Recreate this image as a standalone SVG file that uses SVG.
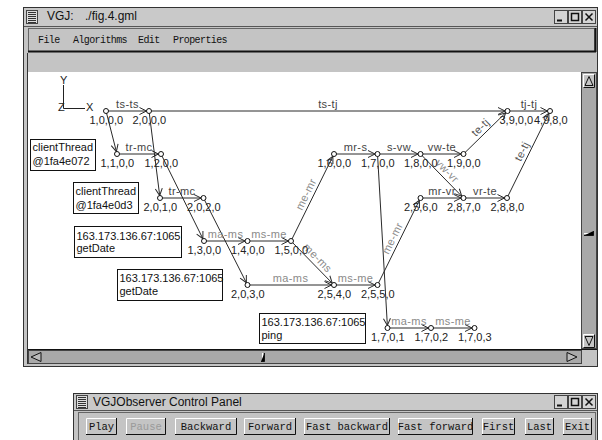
<svg xmlns="http://www.w3.org/2000/svg" width="602" height="440" viewBox="0 0 602 440">
<style>
.frame{fill:#c4c4c4;stroke:#333;stroke-width:1}
.tbar{fill:#c9c9c9}
.wt{font-family:"Liberation Sans",Arial,sans-serif;font-size:12px;fill:#111;white-space:pre}
.menu{font-family:"Liberation Mono","DejaVu Sans Mono",monospace;font-size:10px;letter-spacing:-0.6px;fill:#111}
.btn{font-family:"Liberation Mono","DejaVu Sans Mono",monospace;font-size:10.5px;fill:#111;text-anchor:middle}
.btn.dis{fill:#9a9a9a}
.nl{font-family:"Liberation Sans",Arial,sans-serif;font-size:11px;fill:#222}
.el{font-family:"Liberation Sans",Arial,sans-serif;font-size:11px;letter-spacing:0.4px;text-anchor:middle}
.dk{fill:#444}
.md{fill:#555}
.lt{fill:#8a8a8a}
.bx{fill:#fff;stroke:#111;stroke-width:1}
.bt{font-family:"Liberation Sans",Arial,sans-serif;font-size:11px;fill:#111}
.ax{font-family:"Liberation Sans",Arial,sans-serif;font-size:11px;fill:#222}
.arr{stroke:#2a2a2a;stroke-width:1;marker-end:url(#ah)}
.node{fill:#fff;stroke:#111;stroke-width:1}
.hl{stroke:#fff;stroke-width:1;fill:none}
.sh{stroke:#111;stroke-width:1;fill:none}
.trough{fill:#a9a9a9}
</style>
<defs>
<marker id="ah" markerUnits="userSpaceOnUse" markerWidth="14" markerHeight="10" viewBox="-10 -5 14 10" refX="2.5" refY="0" orient="auto">
<path d="M-7,-3.5 L0,0 L-7,3.5" fill="none" stroke="#2a2a2a" stroke-width="1"/>
</marker>
</defs>
<rect x="0" y="0" width="602" height="440" fill="#fff"/>

<!-- main window -->
<g id="main-window">
<rect class="frame" x="23.5" y="7.5" width="574" height="359"/>
<rect class="tbar" x="24" y="8" width="573" height="18"/>
<line x1="24" y1="26.5" x2="597" y2="26.5" stroke="#555"/>
<g id="main-menuicon">
<rect x="26.5" y="10.5" width="11" height="13" fill="#ddd" stroke="#444"/>
<path d="M28,12.5H36M28,14.5H36M28,16.5H36M28,18.5H36M28,20.5H36M28,22.5H36" stroke="#333"/>
</g>
<text class="wt" x="47" y="20">VGJ:  <tspan x="85">./fig.4.gml</tspan></text>
<g id="main-winbtns">
<rect x="554.5" y="10.5" width="13" height="13" fill="#d4d4d4" stroke="#444"/>
<rect x="568.5" y="10.5" width="13" height="13" fill="#d4d4d4" stroke="#444"/>
<rect x="582.5" y="10.5" width="13" height="13" fill="#d4d4d4" stroke="#444"/>
<path d="M557,20.5H562" stroke="#111" stroke-width="2"/>
<rect x="571.5" y="13.5" width="7" height="7" fill="none" stroke="#111" stroke-width="1.5"/>
<path d="M585.5,13.5L592.5,20.5M592.5,13.5L585.5,20.5" stroke="#111" stroke-width="1.5"/>
</g>
<!-- menu bar -->
<rect x="28.5" y="28.5" width="566" height="23" fill="#c4c4c4" stroke="#666"/>
<path d="M28,51.5H596M595.5,28V52" stroke="#111" stroke-width="2"/>
<text class="menu" x="38" y="43">File</text>
<text class="menu" x="73" y="43">Algorithms</text>
<text class="menu" x="138" y="43">Edit</text>
<text class="menu" x="173" y="43">Properties</text>
<!-- canvas -->
<line x1="27.5" y1="53" x2="27.5" y2="364" stroke="#333"/>
<rect x="28" y="72" width="553" height="277" fill="#fff"/>
<line x1="28" y1="349.5" x2="597" y2="349.5" stroke="#111"/>
<!-- vertical scrollbar -->
<rect class="trough" x="581.5" y="72.5" width="15" height="276" stroke="#444"/>
<rect x="583" y="74" width="12" height="14" fill="#c4c4c4"/>
<path class="hl" d="M583.5,87.5V74.5H594.5"/>
<path class="sh" d="M594.5,74.5V87.5H583.5"/>
<path d="M589,76.5L593,85.5H585Z" fill="none" stroke="#111"/>
<rect x="583" y="334" width="12" height="14" fill="#c4c4c4"/>
<path class="hl" d="M583.5,347.5V334.5H594.5"/>
<path class="sh" d="M594.5,334.5V347.5H583.5"/>
<path d="M585,336.5H593L589,345.5Z" fill="none" stroke="#111"/>
<path d="M584,233.5H592" stroke="#fff"/>
<path d="M584,235.5H593.5V231" stroke="#111"/>
<!-- horizontal scrollbar -->
<rect class="trough" x="28.5" y="350.5" width="553" height="13" stroke="#444"/>
<path d="M41,352.5L31,357L41,361.5Z" fill="#bbb" stroke="#111"/>
<path d="M567,352.5L577,357L567,361.5Z" fill="#bbb" stroke="#111"/>
<path d="M262.5,353V361" stroke="#fff"/>
<path d="M261,361.5H264.5V353" stroke="#111"/>
<rect x="582" y="350" width="15" height="14" fill="#c4c4c4"/>
</g>

<!-- axes -->
<g id="axes">
<path d="M63.5,85V108.5H85" fill="none" stroke="#222"/>
<text class="ax" x="60" y="84">Y</text>
<text class="ax" x="86" y="111">X</text>
<text class="ax" x="58" y="111">Z</text>
</g>

<!-- annotation boxes -->
<g id="box-client1">
<rect class="bx" x="30.5" y="139.5" width="65" height="31"/>
<text class="bt" x="32.5" y="151">clientThread</text>
<text class="bt" x="32.5" y="165">@1fa4e072</text>
</g>
<g id="box-client2">
<rect class="bx" x="73.5" y="182.5" width="65" height="31"/>
<text class="bt" x="75.5" y="195">clientThread</text>
<text class="bt" x="75.5" y="208.5">@1fa4e0d3</text>
</g>
<g id="box-getdate1">
<rect class="bx" x="74.5" y="226.5" width="107" height="31"/>
<text class="bt" x="76.5" y="240">163.173.136.67:1065</text>
<text class="bt" x="76.5" y="252">getDate</text>
</g>
<g id="box-getdate2">
<rect class="bx" x="117.5" y="269.5" width="105" height="31"/>
<text class="bt" x="119.5" y="282">163.173.136.67:1065</text>
<text class="bt" x="119.5" y="294.5">getDate</text>
</g>
<g id="box-ping">
<rect class="bx" x="259.5" y="313.5" width="106" height="30"/>
<text class="bt" x="261.5" y="326">163.173.136.67:1065</text>
<text class="bt" x="261.5" y="338.5">ping</text>
</g>

<!-- connectors -->
<g id="connectors">
<line class="arr" x1="106" y1="111" x2="149" y2="111"/>
<line class="arr" x1="149" y1="111" x2="507.5" y2="111"/>
<line class="arr" x1="507.5" y1="111" x2="550" y2="111"/>
<line class="arr" x1="106" y1="111" x2="117" y2="154"/>
<line class="arr" x1="117" y1="154" x2="161" y2="154"/>
<line class="arr" x1="149" y1="111" x2="160" y2="198"/>
<line class="arr" x1="160" y1="198" x2="203.5" y2="198"/>
<line class="arr" x1="161" y1="154" x2="204" y2="241"/>
<line class="arr" x1="203.5" y1="198" x2="247.5" y2="285"/>
<line class="arr" x1="204" y1="241" x2="247.5" y2="241"/>
<line class="arr" x1="247.5" y1="241" x2="291" y2="241"/>
<line class="arr" x1="291" y1="241" x2="334" y2="154"/>
<line class="arr" x1="291" y1="241" x2="334" y2="285"/>
<line class="arr" x1="247.5" y1="285" x2="334" y2="285"/>
<line class="arr" x1="334" y1="285" x2="377.5" y2="285"/>
<line class="arr" x1="377.5" y1="285" x2="420.5" y2="198"/>
<line class="arr" x1="334" y1="154" x2="377.5" y2="154"/>
<line class="arr" x1="377.5" y1="154" x2="420.5" y2="154"/>
<line class="arr" x1="420.5" y1="154" x2="463.5" y2="154"/>
<line class="arr" x1="420.5" y1="154" x2="463.5" y2="198"/>
<line class="arr" x1="420.5" y1="198" x2="463.5" y2="198"/>
<line class="arr" x1="463.5" y1="198" x2="507" y2="198"/>
<line class="arr" x1="463.5" y1="154" x2="507.5" y2="111"/>
<line class="arr" x1="507" y1="198" x2="550" y2="111"/>
<line class="arr" x1="377.5" y1="154" x2="387.5" y2="328"/>
<line class="arr" x1="387.5" y1="328" x2="431" y2="328"/>
<line class="arr" x1="431" y1="328" x2="474.5" y2="328"/>
<!-- edge labels -->
<text class="el dk" x="127.5" y="107.5">ts-ts</text>
<text class="el dk" x="328" y="107.5">ts-tj</text>
<text class="el dk" x="529" y="107.5">tj-tj</text>
<text class="el dk" x="139" y="150.5">tr-mc</text>
<text class="el dk" x="182" y="194.5">tr-mc</text>
<text class="el lt" x="225.5" y="237.5">ma-ms</text>
<text class="el lt" x="269" y="237.5">ms-me</text>
<text class="el lt" x="290.5" y="281.5">ma-ms</text>
<text class="el lt" x="355.5" y="281.5">ms-me</text>
<text class="el dk" x="355.5" y="150.5">mr-s</text>
<text class="el dk" x="399" y="150.5">s-vw</text>
<text class="el dk" x="442" y="150.5">vw-te</text>
<text class="el dk" x="442" y="194.5">mr-vr</text>
<text class="el dk" x="485" y="194.5">vr-te</text>
<text class="el lt" x="409" y="324.5">ma-ms</text>
<text class="el lt" x="453" y="324.5">ms-me</text>
<text class="el lt" transform="translate(312.5,197.5) rotate(-63.7)" x="0" y="-3.5">me-mr</text>
<text class="el lt" transform="translate(312.5,263) rotate(45.7)" x="0" y="-3.5">me-ms</text>
<text class="el lt" transform="translate(399,241.5) rotate(-63.7)" x="0" y="-3.5">me-mr</text>
<text class="el lt" transform="translate(442,176) rotate(45.7)" x="0" y="-3.5">vw-vr</text>
<text class="el md" transform="translate(485.5,132.5) rotate(-44.3)" x="0" y="-3.5">te-tj</text>
<text class="el md" transform="translate(528.5,154.5) rotate(-63.7)" x="0" y="-3.5">te-tj</text>
</g>

<!-- nodes -->
<g id="n1000"><circle class="node" cx="106" cy="111" r="2.5"/><text class="nl" x="89.5" y="124">1,0,0,0</text></g>
<g id="n2000"><circle class="node" cx="149" cy="111" r="2.5"/><text class="nl" x="132.5" y="124">2,0,0,0</text></g>
<g id="n3900"><circle class="node" cx="507.5" cy="111" r="2.5"/><text class="nl" x="499.5" y="124">3,9,0,0</text></g>
<g id="n4980"><circle class="node" cx="550" cy="111" r="2.5"/><text class="nl" x="534" y="124">4,9,8,0</text></g>
<g id="n1100"><circle class="node" cx="117" cy="154" r="2.5"/><text class="nl" x="100.5" y="167">1,1,0,0</text></g>
<g id="n1200"><circle class="node" cx="161" cy="154" r="2.5"/><text class="nl" x="144.5" y="167">1,2,0,0</text></g>
<g id="n1600"><circle class="node" cx="334" cy="154" r="2.5"/><text class="nl" x="317.5" y="167">1,6,0,0</text></g>
<g id="n1700"><circle class="node" cx="377.5" cy="154" r="2.5"/><text class="nl" x="361" y="167">1,7,0,0</text></g>
<g id="n1800"><circle class="node" cx="420.5" cy="154" r="2.5"/><text class="nl" x="404" y="167">1,8,0,0</text></g>
<g id="n1900"><circle class="node" cx="463.5" cy="154" r="2.5"/><text class="nl" x="447" y="167">1,9,0,0</text></g>
<g id="n2010"><circle class="node" cx="160" cy="198" r="2.5"/><text class="nl" x="143.5" y="211">2,0,1,0</text></g>
<g id="n2020"><circle class="node" cx="203.5" cy="198" r="2.5"/><text class="nl" x="187" y="211">2,0,2,0</text></g>
<g id="n2560"><circle class="node" cx="420.5" cy="198" r="2.5"/><text class="nl" x="404" y="211">2,5,6,0</text></g>
<g id="n2870"><circle class="node" cx="463.5" cy="198" r="2.5"/><text class="nl" x="447" y="211">2,8,7,0</text></g>
<g id="n2880"><circle class="node" cx="507" cy="198" r="2.5"/><text class="nl" x="490.5" y="211">2,8,8,0</text></g>
<g id="n1300"><circle class="node" cx="204" cy="241" r="2.5"/><text class="nl" x="187.5" y="254">1,3,0,0</text></g>
<g id="n1400"><circle class="node" cx="247.5" cy="241" r="2.5"/><text class="nl" x="231" y="254">1,4,0,0</text></g>
<g id="n1500"><circle class="node" cx="291" cy="241" r="2.5"/><text class="nl" x="274.5" y="254">1,5,0,0</text></g>
<g id="n2030"><circle class="node" cx="247.5" cy="285" r="2.5"/><text class="nl" x="231" y="298">2,0,3,0</text></g>
<g id="n2540"><circle class="node" cx="334" cy="285" r="2.5"/><text class="nl" x="317.5" y="298">2,5,4,0</text></g>
<g id="n2550"><circle class="node" cx="377.5" cy="285" r="2.5"/><text class="nl" x="361" y="298">2,5,5,0</text></g>
<g id="n1701"><circle class="node" cx="387.5" cy="328" r="2.5"/><text class="nl" x="371" y="341">1,7,0,1</text></g>
<g id="n1702"><circle class="node" cx="431" cy="328" r="2.5"/><text class="nl" x="414.5" y="341">1,7,0,2</text></g>
<g id="n1703"><circle class="node" cx="474.5" cy="328" r="2.5"/><text class="nl" x="458" y="341">1,7,0,3</text></g>

<!-- control panel window -->
<g id="control-panel">
<rect class="frame" x="73.5" y="393.5" width="524" height="50"/>
<rect class="tbar" x="74" y="394" width="523" height="16"/>
<line x1="74" y1="410.5" x2="597" y2="410.5" stroke="#555"/>
<rect x="76.5" y="395.5" width="11" height="13" fill="#ddd" stroke="#444"/>
<path d="M78,397.5H86M78,399.5H86M78,401.5H86M78,403.5H86M78,405.5H86M78,407.5H86" stroke="#333"/>
<text class="wt" x="93" y="406">VGJObserver Control Panel</text>
<rect x="554.5" y="395.5" width="13" height="13" fill="#d4d4d4" stroke="#444"/>
<rect x="568.5" y="395.5" width="13" height="13" fill="#d4d4d4" stroke="#444"/>
<rect x="582.5" y="395.5" width="13" height="13" fill="#d4d4d4" stroke="#444"/>
<path d="M557,405.5H562" stroke="#111" stroke-width="2"/>
<rect x="571.5" y="398.5" width="7" height="7" fill="none" stroke="#111" stroke-width="1.5"/>
<path d="M585.5,398.5L592.5,405.5M592.5,398.5L585.5,405.5" stroke="#111" stroke-width="1.5"/>
<rect x="78.5" y="412.5" width="517" height="30" fill="#c4c4c4" stroke="#666"/>
</g>
<g id="btn-play"><path class="hl" d="M86.5,434V418.5H116"/><path class="sh" d="M116.5,418V434.5H86" stroke-width="2"/><text class="btn" x="101.5" y="430">Play</text></g>
<g id="btn-pause"><path class="hl" d="M126.5,434V418.5H165"/><path class="sh" d="M165.5,418V434.5H126" stroke-width="2"/><text class="btn dis" x="146" y="430">Pause</text></g>
<g id="btn-backward"><path class="hl" d="M175.5,434V418.5H236"/><path class="sh" d="M236.5,418V434.5H175" stroke-width="2"/><text class="btn" x="206" y="430">Backward</text></g>
<g id="btn-forward"><path class="hl" d="M244.5,434V418.5H295"/><path class="sh" d="M295.5,418V434.5H244" stroke-width="2"/><text class="btn" x="270" y="430">Forward</text></g>
<g id="btn-fastbackward"><path class="hl" d="M304.5,434V418.5H389"/><path class="sh" d="M389.5,418V434.5H304" stroke-width="2"/><text class="btn" x="347" y="430">Fast backward</text></g>
<g id="btn-fastforward"><path class="hl" d="M398.5,434V418.5H472"/><path class="sh" d="M472.5,418V434.5H398" stroke-width="2"/><text class="btn" x="435.5" y="430">Fast forward</text></g>
<g id="btn-first"><path class="hl" d="M482.5,434V418.5H514"/><path class="sh" d="M514.5,418V434.5H482" stroke-width="2"/><text class="btn" x="498.5" y="430">First</text></g>
<g id="btn-last"><path class="hl" d="M525.5,434V418.5H553"/><path class="sh" d="M553.5,418V434.5H525" stroke-width="2"/><text class="btn" x="539.5" y="430">Last</text></g>
<g id="btn-exit"><path class="hl" d="M563.5,434V418.5H591"/><path class="sh" d="M591.5,418V434.5H563" stroke-width="2"/><text class="btn" x="577.5" y="430">Exit</text></g>
</svg>
